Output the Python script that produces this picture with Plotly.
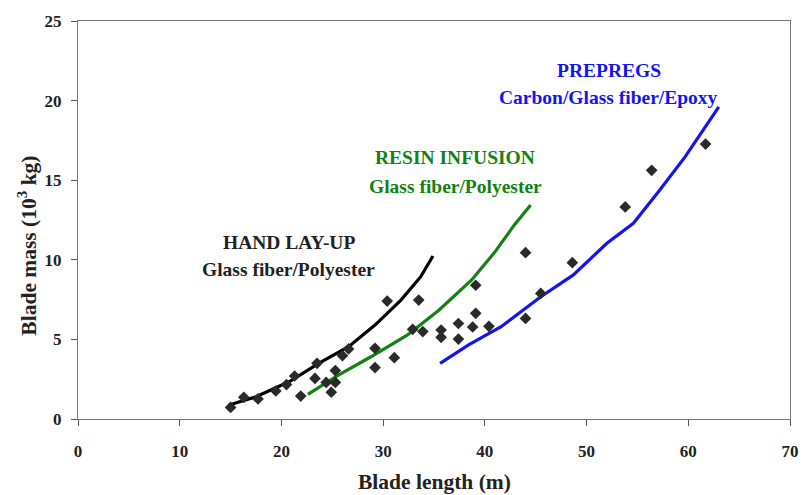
import plotly.graph_objects as go

# Scatter data (blade length m, blade mass 10^3 kg)
pts_x = [15.0, 16.3, 17.7, 19.45, 20.5, 21.3, 21.9, 23.3, 23.5, 24.4, 24.9, 25.3, 25.3,
         26.0, 26.6, 29.2, 29.2, 31.1, 30.4, 33.5, 32.9, 33.9, 35.7, 35.7, 37.4, 37.4,
         38.8, 39.1, 39.1, 40.4, 44.0, 44.0, 45.5, 48.6, 53.8, 56.4, 61.7]
pts_y = [0.73, 1.36, 1.26, 1.76, 2.16, 2.7, 1.44, 2.55, 3.5, 2.3, 1.68, 2.3, 3.04,
         3.98, 4.4, 4.44, 3.23, 3.85, 7.41, 7.47, 5.63, 5.49, 5.59, 5.13, 6.0, 5.02,
         5.78, 6.64, 8.4, 5.82, 10.45, 6.32, 7.89, 9.82, 13.32, 15.62, 17.27]

# Trend curves
hand_x = [14.85, 17.5, 20.75, 23.66, 26.6, 29.2, 31.75, 33.7, 34.9]
hand_y = [0.88, 1.40, 2.34, 3.50, 4.54, 5.9, 7.47, 8.94, 10.24]

resin_x = [22.6, 25.6, 28.8, 32.4, 35.5, 38.7, 41.0, 42.9, 44.5]
resin_y = [1.55, 2.76, 3.91, 5.28, 6.85, 8.73, 10.5, 12.19, 13.44]

prep_x = [35.6, 38.4, 41.6, 45.5, 48.7, 52.0, 54.6, 57.2, 59.7, 63.0]
prep_y = [3.5, 4.65, 5.8, 7.68, 9.05, 11.04, 12.29, 14.38, 16.48, 19.6]

x_ticks = [0, 10, 20, 30, 40, 50, 60, 70]
y_ticks = [0, 5, 10, 15, 20, 25]

FONT = "Liberation Serif"
TXT = "#222222"
BLACK = "#000000"
GREEN = "#138213"
BLUE = "#1414f0"

fig = go.Figure()
fig.add_trace(go.Scatter(x=hand_x, y=hand_y, mode="lines",
                         line=dict(color=BLACK, width=3.2), showlegend=False))
fig.add_trace(go.Scatter(x=resin_x, y=resin_y, mode="lines",
                         line=dict(color=GREEN, width=3.2), showlegend=False))
fig.add_trace(go.Scatter(x=prep_x, y=prep_y, mode="lines",
                         line=dict(color=BLUE, width=3.2), showlegend=False))
fig.add_trace(go.Scatter(x=pts_x, y=pts_y, mode="markers",
                         marker=dict(symbol="diamond", size=9, color="#2a2a2a"),
                         showlegend=False))

def ann(x, y, text, color):
    fig.add_annotation(x=x, y=y, xref="x", yref="y", text=text, showarrow=False,
                       font=dict(family=FONT, size=19.5, color=color),
                       xanchor="center", yanchor="middle")

ann(20.7, 11.1, "<b>HAND LAY-UP</b>", TXT)
ann(20.7, 9.36, "<b>Glass fiber/Polyester</b>", TXT)
ann(37.1, 16.4, "<b>RESIN INFUSION</b>", GREEN)
ann(37.1, 14.6, "<b>Glass fiber/Polyester</b>", GREEN)
ann(52.2, 21.9, "<b>PREPREGS</b>", BLUE)
ann(52.2, 20.2, "<b>Carbon/Glass fiber/Epoxy</b>", BLUE)

# axis titles as annotations (paper coords)
W, H = 810, 495
L, R, T, B = 78, 11, 21, 76
pw, ph = W - L - R, H - T - B
fig.add_annotation(x=(27 - L) / pw, y=1 - (246 - T) / ph, xref="paper", yref="paper",
                   text="<b>Blade mass (10<sup>3</sup> kg)</b>", textangle=-90, showarrow=False,
                   font=dict(family=FONT, size=21.5, color=TXT), xanchor="center", yanchor="middle")
fig.add_annotation(x=0.5, y=1 - (482 - T) / ph, xref="paper", yref="paper",
                   text="<b>Blade length (m)</b>", showarrow=False,
                   font=dict(family=FONT, size=21.5, color=TXT), xanchor="center", yanchor="middle")

axis_common = dict(showgrid=False, zeroline=False, showline=True, mirror=True,
                   linecolor="#777777", linewidth=1, ticks="outside", ticklen=6,
                   tickcolor="#555555", tickfont=dict(family=FONT, size=17, color=TXT))

fig.update_xaxes(range=[0, 70], tickvals=x_ticks, ticktext=[f"<b>{v}</b>" for v in x_ticks],
                 ticklabelstandoff=11, **axis_common)
fig.update_yaxes(range=[0, 25], tickvals=y_ticks, ticktext=[f"<b>{v}</b>" for v in y_ticks],
                 ticklabelstandoff=6, **axis_common)

fig.update_layout(width=W, height=H, margin=dict(l=L, r=R, t=T, b=B),
                  plot_bgcolor="white", paper_bgcolor="white")

fig.write_html("out.html")
